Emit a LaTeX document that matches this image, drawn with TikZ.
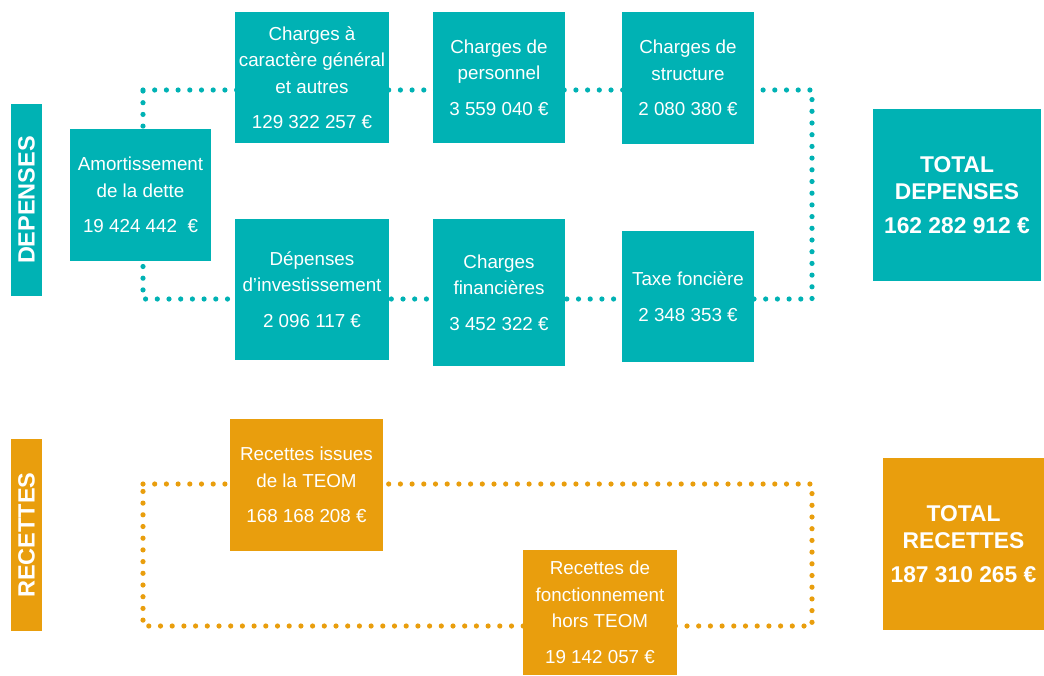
\documentclass[tikz,border=0pt]{standalone}
\usepackage{fontspec}
\setmainfont{Liberation Sans}
\definecolor{depcol}{RGB}{0,178,180}
\definecolor{reccol}{RGB}{233,158,13}
\begin{document}
\begin{tikzpicture}[x=1pt,y=-1pt,
  box/.style={fill=#1, text=white, inner sep=0pt, align=center, font=\fontsize{18.8}{26.5}\selectfont},
  totbox/.style={fill=#1, text=white, inner sep=0pt, align=center, font=\fontsize{22.8}{27}\selectfont\bfseries},
  sidebar/.style={fill=#1, text=white, inner sep=0pt, font=\fontsize{23.5}{26}\selectfont\bfseries},
  dotline/.style={draw=#1, line width=5.2pt, line cap=round, dash pattern=on 0pt off 11.7pt},
]
\useasboundingbox (0,0) rectangle (1044,675);
% dotted loops (behind boxes)
\coordinate (dtl) at (143,90);
\coordinate (dtr) at (812,90);
\coordinate (dbr) at (812,299);
\coordinate (dbl) at (143,299);
\draw[dotline=depcol] (dtl) -- (dtr) -- (dbr) -- (dbl) -- cycle;
\coordinate (rtl) at (143,484);
\coordinate (rtr) at (812,484);
\coordinate (rbr) at (812,626);
\coordinate (rbl) at (143,626);
\draw[dotline=reccol] (rtl) -- (rtr) -- (rbr) -- (rbl) -- cycle;
% side bars
\node[sidebar=depcol, minimum width=192pt, minimum height=31pt, rotate=90] (depbar) at (26.5,200) {DEPENSES};
\node[sidebar=reccol, minimum width=192pt, minimum height=31pt, rotate=90] (recbar) at (26.5,535) {RECETTES};
% depenses boxes
\node[box=depcol, minimum width=141pt, minimum height=132pt] (amort) at (140.5,195) {Amortissement\\de la dette\\[9pt]19 424 442\ \ €};
\node[box=depcol, minimum width=154pt, minimum height=131pt] (cac) at (312,77.5) {Charges à\\caractère général\\et autres\\[9pt]129 322 257 €};
\node[box=depcol, minimum width=132pt, minimum height=131pt] (pers) at (499,77.5) {Charges de\\personnel\\[9pt]3 559 040 €};
\node[box=depcol, minimum width=132pt, minimum height=132pt] (struct) at (688,78) {Charges de\\structure\\[9pt]2 080 380 €};
\node[box=depcol, minimum width=154pt, minimum height=141pt] (invest) at (312,289.5) {Dépenses\\d'investissement\\[9pt]2 096 117 €};
\node[box=depcol, minimum width=132pt, minimum height=147pt] (fin) at (499,292.5) {Charges\\financières\\[9pt]3 452 322 €};
\node[box=depcol, minimum width=132pt, minimum height=131pt] (taxe) at (688,296.5) {Taxe foncière\\[9pt]2 348 353 €};
\node[totbox=depcol, minimum width=168pt, minimum height=172pt] (totdep) at (957,195) {TOTAL\\DEPENSES\\[7pt]162 282 912 €};
% recettes boxes
\node[box=reccol, minimum width=153pt, minimum height=132pt] (issues) at (306.5,485) {Recettes issues\\de la TEOM\\[9pt]168 168 208 €};
\node[box=reccol, minimum width=154pt, minimum height=125pt] (fonct) at (600,612.5) {Recettes de\\fonctionnement\\hors TEOM\\[9pt]19 142 057 €};
\node[totbox=reccol, minimum width=161pt, minimum height=172pt] (totrec) at (963.5,544) {TOTAL\\RECETTES\\[7pt]187 310 265 €};
\end{tikzpicture}
\end{document}
